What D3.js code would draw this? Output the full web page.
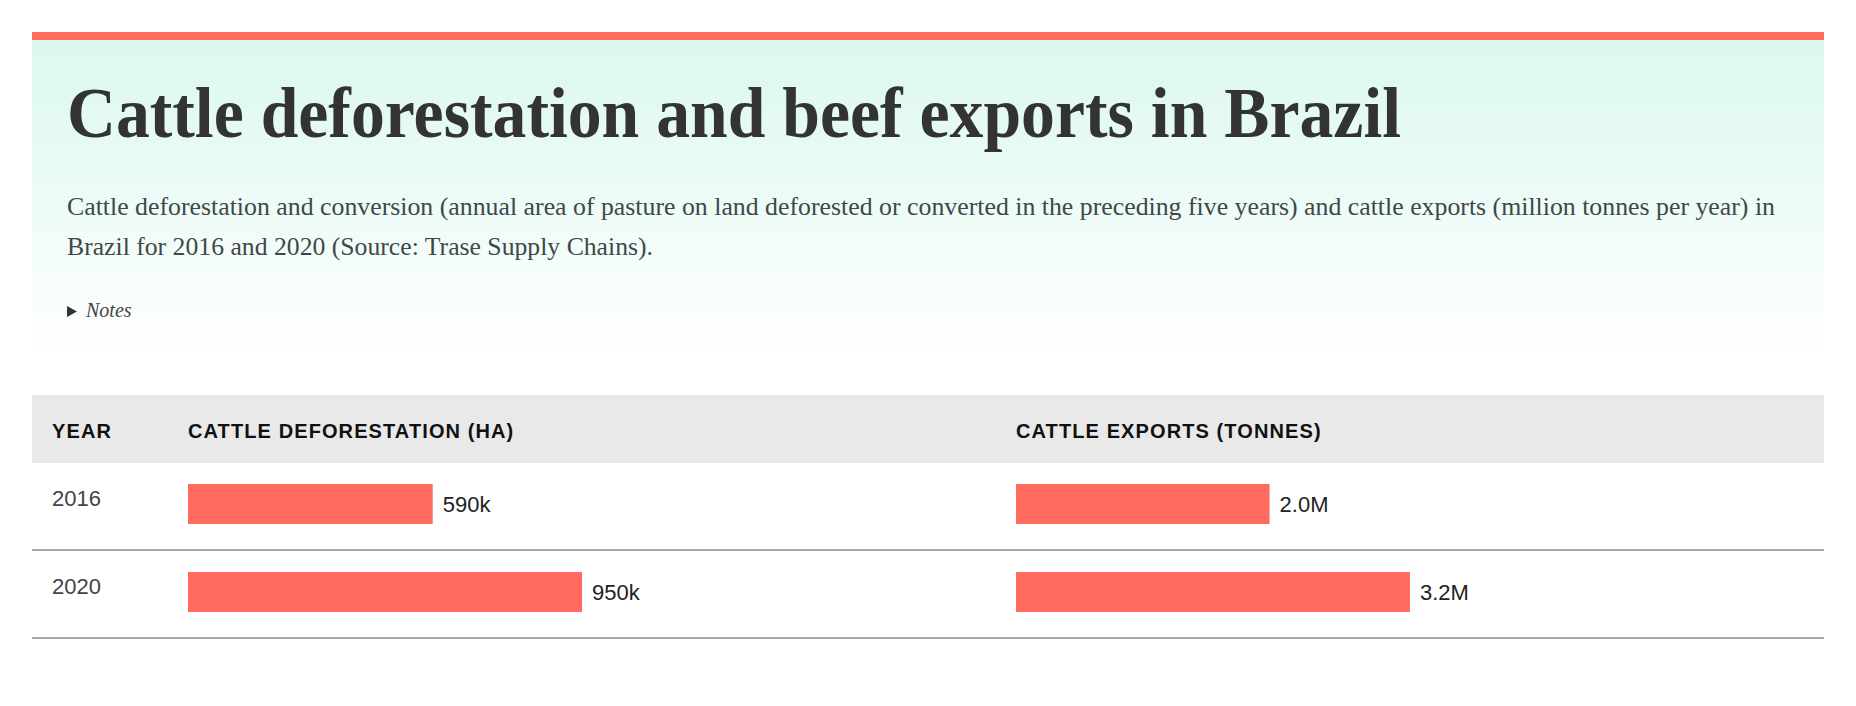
<!DOCTYPE html>
<html>
<head>
<meta charset="utf-8">
<script src="https://cdn.jsdelivr.net/npm/d3@7"></script>
<style>
  html, body { margin: 0; padding: 0; background: #fff; }
  svg { display: block; }
</style>
</head>
<body>
<div id="chart"></div>
<script>
// ---- data ----
const years = ["2016", "2020"];
const deforestation = [590000, 950000];   // hectares
const exportsTonnes = [2.04e6, 3.17e6];   // tonnes
const columnLabels = ["YEAR", "CATTLE DEFORESTATION (HA)", "CATTLE EXPORTS (TONNES)"];
const titleText = "Cattle deforestation and beef exports in Brazil";
const subtitleLines = [
  "Cattle deforestation and conversion (annual area of pasture on land deforested or converted in the preceding five years) and cattle exports (million tonnes per year) in",
  "Brazil for 2016 and 2020 (Source: Trase Supply Chains)."
];
const notesText = "Notes";

// ---- layout ----
const W = 1856, H = 706;
const left = 32, right = 1824;
const accent = "#ff6b5e";
const serif = "'Liberation Serif', 'Times New Roman', serif";
const sans = "'Liberation Sans', Arial, sans-serif";

const svg = d3.select("#chart").append("svg").attr("width", W).attr("height", H);

const defs = svg.append("defs");
const grad = defs.append("linearGradient").attr("id", "hdrGrad")
  .attr("x1", 0).attr("y1", 0).attr("x2", 0).attr("y2", 1);
grad.append("stop").attr("offset", "0%").attr("stop-color", "#dbf8ee");
grad.append("stop").attr("offset", "100%").attr("stop-color", "#ffffff");

// header panel
svg.append("rect").attr("x", left).attr("y", 40).attr("width", right - left).attr("height", 320)
  .attr("fill", "url(#hdrGrad)");
svg.append("rect").attr("x", left).attr("y", 32).attr("width", right - left).attr("height", 8)
  .attr("fill", accent);

svg.append("text").attr("x", 67).attr("y", 137)
  .attr("font-family", serif)
  .attr("font-weight", "bold").attr("font-size", 72).attr("fill", "#333")
  .attr("textLength", 1334).attr("lengthAdjust", "spacingAndGlyphs")
  .text(titleText);

const subLens = [1708, 586];
svg.append("g").selectAll("text").data(subtitleLines).join("text")
  .attr("x", 67).attr("y", (d, i) => 215 + i * 40)
  .attr("font-family", serif)
  .attr("font-size", 25.7).attr("fill", "#3f4848")
  .attr("textLength", (d, i) => subLens[i]).attr("lengthAdjust", "spacingAndGlyphs")
  .text(d => d);

// notes disclosure
svg.append("path").attr("d", "M67,306 L77,311.5 L67,317 Z").attr("fill", "#333");
svg.append("text").attr("x", 86).attr("y", 317)
  .attr("font-family", serif)
  .attr("font-style", "italic").attr("font-size", 20).attr("fill", "#444")
  .text(notesText);

// ---- table ----
const colX = [52, 188, 1016];
const headTop = 395, headBottom = 463, rowH = 88;

svg.append("rect").attr("x", left).attr("y", headTop).attr("width", right - left)
  .attr("height", headBottom - headTop).attr("fill", "#e9e9e9");

svg.append("g").selectAll("text").data(columnLabels).join("text")
  .attr("x", (d, i) => colX[i]).attr("y", 438)
  .attr("font-family", sans)
  .attr("font-weight", "bold").attr("font-size", 20).attr("letter-spacing", 1.1)
  .attr("fill", "#111")
  .text(d => d);

const y = d3.scaleBand().domain(years).range([headBottom, headBottom + rowH * years.length]);
const barH = 40;

const xDef = d3.scaleLinear().domain([0, d3.max(deforestation)]).range([0, 394]);
const xExp = d3.scaleLinear().domain([0, d3.max(exportsTonnes)]).range([0, 394]);

const fmtK = v => Math.round(v / 1000) + "k";
const fmtM = v => (v / 1e6).toFixed(1) + "M";

const rows = svg.append("g").selectAll("g").data(years).join("g")
  .attr("transform", d => `translate(0,${y(d)})`);

rows.append("text").attr("x", colX[0]).attr("y", 43)
  .attr("font-family", sans)
  .attr("font-size", 22).attr("fill", "#444")
  .text(d => d);

rows.append("line").attr("x1", left).attr("x2", right)
  .attr("y1", rowH - 1).attr("y2", rowH - 1)
  .attr("stroke", "#aaa").attr("stroke-width", 2);

function drawCol(vals, scale, x0, fmt) {
  rows.append("rect").attr("x", x0).attr("y", 21)
    .attr("width", (d, i) => scale(vals[i])).attr("height", barH)
    .attr("fill", accent);
  rows.append("text").attr("x", (d, i) => x0 + scale(vals[i]) + 10).attr("y", 41)
    .attr("dy", "0.35em")
    .attr("font-family", sans)
    .attr("font-size", 22).attr("fill", "#222")
    .text((d, i) => fmt(vals[i]));
}
drawCol(deforestation, xDef, colX[1], fmtK);
drawCol(exportsTonnes, xExp, colX[2], fmtM);
</script>
</body>
</html>
